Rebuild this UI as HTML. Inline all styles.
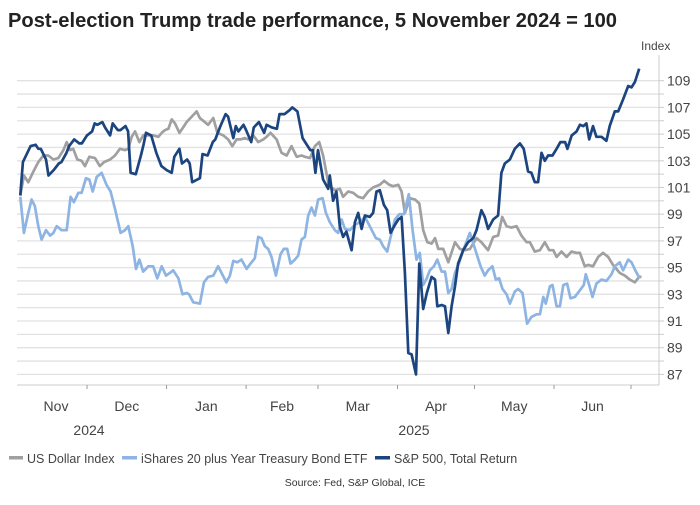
<!DOCTYPE html>
<html><head><meta charset="utf-8"><style>
body{margin:0;width:700px;height:500px;background:#fff;font-family:"Liberation Sans",sans-serif;overflow:hidden}
svg text{font-family:"Liberation Sans",sans-serif}
</style></head><body>
<svg width="700" height="500" xmlns="http://www.w3.org/2000/svg">
<text x="8" y="27" font-size="20" font-weight="bold" fill="#222" textLength="609" lengthAdjust="spacingAndGlyphs">Post-election Trump trade performance, 5 November 2024 = 100</text>
<text x="641" y="50" font-size="12" fill="#444">Index</text>
<g id="grid"></g><g id="yaxis"></g><g id="xaxis"></g><g id="series"></g>
<g>
<g><rect x="9" y="456" width="14" height="3.5" fill="#a0a0a0"/><text x="27" y="463" font-size="12.5" fill="#444">US Dollar Index</text></g>
<g><rect x="122" y="456" width="15" height="3.5" fill="#8db4e2"/><text x="141" y="463" font-size="12.5" fill="#444">iShares 20 plus Year Treasury Bond ETF</text></g>
<g><rect x="375" y="456" width="15" height="3.5" fill="#1c4580"/><text x="394" y="463" font-size="12.5" fill="#444">S&amp;P 500, Total Return</text></g>
</g>
<text x="355" y="486" font-size="10.5" fill="#333" text-anchor="middle">Source: Fed, S&amp;P Global, ICE</text>
</svg>
<script>
const spDays=[0,1,4,6,7,8,10,11,13,15,16,18,19,21,23,24,26,28,29,30,32,33,35,36,38,39,41,42,43,45,47,48,49,51,53,55,57,59,60,62,63,65,66,67,70,71,73,75,76,78,80,81,83,84,85,87,88,90,91,93,95,96,98,100,101,103,105,106,108,110,112,113,114,115,116,118,120,
120.6,121.9,123.2,124.5,125.8,127.1,129.1,130.4,131.7,133,134.3,136.2,137.5,138.8,140.1,141.7,143,144.3,146,147.3,148.6,149.9,151.2,152.5,154.2,155.5,157,158.4,160.3,161.6,162.5,164.2,165.5,166.8,168.1,169.4,170.6,172.6,174.5,176.5,177.8,179.7,181,182.3,184.3,186.2,187.5,188.8,190.8,192.7,194.7,196.2,197.9,199.2,200.5,201.8,203.1,204.4,205.7,207.4,209,210.5,212.3,213.2,214.9,216.8,218.1,219.4,220.6,221.7,223.2,224.5,226.5,228.4,229.7,231.7,233,234.9,236.9,238.2,239.5,241.2];
const spVals=[100.4,102.9,104.1,104.2,103.9,103.9,103.1,101.9,102.3,102.8,102.9,103.6,104.1,104.6,104.3,104.3,104.9,105.2,105.8,105.7,105.9,105.5,104.9,105.8,105.3,105.3,105.6,105.2,102.1,102.0,103.4,104.2,105.1,104.9,103.6,102.6,102.3,102.1,103.3,103.9,102.8,103.1,102.8,101.4,101.7,103.5,103.4,104.4,104.6,105.6,106.5,106.3,104.7,105.6,105.2,105.7,105.3,104.4,105.5,105.9,105.1,105.7,105.5,105.4,106.5,106.5,106.8,107.0,106.7,104.7,104.1,103.8,103.8,102.1,103.8,101.6,100.9,
101.9,100.0,100.7,98.1,97.3,97.7,96.3,98.4,99.1,97.9,98.9,98.8,99.1,100.7,100.8,99.7,99.3,97.6,98.2,98.6,98.8,94.6,88.6,88.5,87.0,95.3,91.9,93.1,94.3,94.1,92.1,92.2,92.1,90.1,92.1,93.6,95.3,96.3,96.9,97.2,97.8,99.3,98.8,97.9,98.6,98.9,102.1,102.8,103.1,103.9,104.3,103.9,102.2,102.1,101.4,101.4,103.6,103.0,103.4,103.4,103.9,104.4,104.4,103.9,104.9,105.2,105.7,105.6,105.8,104.6,105.6,104.8,104.8,104.5,105.6,106.7,106.7,107.6,108.6,108.5,108.9,109.9];
const usdDays=[0,1.4,3.1,5.1,7,9,10.9,12.9,14.8,16.8,18.1,19.4,20.6,22.2,23.9,25.2,26.9,29.1,31,32.6,35,36.9,38.8,40.8,42.1,43.4,44.7,46.4,47.9,49.9,51.8,53.8,55.1,56.4,57.7,59,60.3,62,63.5,64.8,66.8,68.7,70,71.9,73.2,75.2,76.8,79.1,81,82.6,84.3,85.8,87.5,88.8,90.8,92.7,94.7,96,97.5,99.9,101.8,103.8,105.7,107.7,109.6,110.9,112.9,114.8,116.5,118,120,
120.6,122.6,124.5,125.8,127.8,129.7,131.7,133.6,135.6,137.5,140.1,141.8,143.8,145.3,147.3,148.6,149.9,151.8,153.8,155.5,157,158.6,160.3,161.6,162.9,164.8,166.8,169.4,171.3,173.3,175.2,177.8,179.7,182.3,184.3,186.2,187.8,189.5,191.4,193.4,195.3,197.3,198.6,200.5,202.5,204.4,206.1,207.7,209,210.9,212.9,214.8,216.8,218.1,220,221.3,223.2,225.2,227.1,229.1,231,233.6,235.6,237.5,239.5,241.2,242.1];
const usdVals=[100.4,101.9,101.4,102.2,102.9,103.4,103.4,103.1,103.2,103.8,104.4,103.8,103.9,103.1,103.0,102.6,103.3,103.2,102.6,102.9,103.1,103.4,103.9,103.8,103.9,104.8,105.2,104.4,104.9,104.9,104.9,104.8,105.1,105.3,105.4,106.1,105.8,105.1,105.5,105.9,106.3,106.7,106.2,105.9,105.7,106.2,105.1,104.9,104.6,104.1,104.6,104.6,104.7,104.6,104.9,104.4,104.6,104.8,105.1,104.6,103.6,103.4,104.1,103.3,103.4,103.3,103.2,104.1,104.4,103.4,101.4,
101.1,100.8,100.9,100.3,100.7,100.6,100.3,100.2,100.7,101.0,101.2,101.5,101.2,101.1,101.2,100.7,99.1,100.2,100.1,99.8,97.8,96.9,96.8,97.2,96.4,96.4,95.4,96.9,96.4,96.3,96.4,97.2,96.9,96.3,97.3,97.4,98.8,98.1,98.0,98.1,97.4,96.9,96.9,96.2,96.3,96.9,96.3,96.3,95.8,96.2,95.8,96.2,96.1,96.1,95.1,95.2,95.1,95.8,96.1,95.8,95.2,94.6,94.4,94.1,93.9,94.3,94.3];
const tltDays=[0,1.4,3.1,4.4,5.7,7,8.3,10,11.6,12.9,14.2,16.1,18.1,19.6,20.9,22.6,23.9,25.6,26.9,28.2,29.8,31.7,33.6,35.2,36.9,39.1,40.8,42.1,43.8,45.1,46.4,47.9,49.9,51.8,53.4,55.1,56.8,58.3,59.6,61.6,63.2,64.8,65.8,67.4,70,71.6,73.2,75.2,77.1,78.4,80.3,81.7,83,84.5,86.2,88.2,89.7,91.4,92.7,94,95.3,96.6,97.9,99.6,101.4,102.7,104,105.3,107,108.3,109.6,110.9,112.2,113.5,114.8,116.1,117.8,119.1,
120.6,122.6,123.9,125.2,126.5,128.4,130.4,132.3,134.3,136.2,138.6,140.1,141.4,143,144.3,146,147.7,149.5,151.4,152.9,154.4,155.7,157,158.4,159.6,161.2,162.5,164.2,165.5,166.8,168.1,169.4,171.1,172.6,175.2,177.2,179.4,181,182.3,184,185.3,186.6,187.9,189.5,190.8,192.7,194,195.7,197.5,199.2,201.2,202.5,203.8,204.8,206.4,207.4,209,210.3,211.6,213.1,214.4,216.1,218.1,219.6,220.4,221.7,223,224.5,226.5,228.4,230.4,231.7,233.6,234.9,236.9,238.2,239.9,241.4];
const tltVals=[100.3,97.6,99.1,100.1,99.6,98.1,97.1,97.8,97.4,97.6,98.1,97.8,97.8,100.3,99.9,100.6,100.6,101.7,101.6,100.7,101.8,102.1,101.2,100.7,99.4,97.6,97.8,98.1,96.6,94.9,95.6,94.7,95.1,95.1,94.2,95.1,94.4,94.6,94.8,94.2,93.0,93.1,93.0,92.4,92.3,93.9,94.3,94.4,95.1,94.6,93.9,94.4,95.5,95.4,95.6,94.9,95.3,95.7,97.3,97.2,96.6,96.4,95.8,94.4,96.0,96.4,96.4,95.3,95.6,95.9,97.1,97.3,98.9,99.5,98.9,100.1,100.2,99.1,
98.4,97.8,97.6,98.6,97.9,97.8,98.2,98.4,98.8,98.1,97.2,97.1,96.6,96.2,97.3,98.6,99.0,99.0,100.5,97.8,95.6,96.1,93.7,94.2,94.8,95.1,95.6,94.7,94.7,93.1,93.4,94.6,95.4,96.3,97.6,96.4,95.1,94.4,94.8,95.1,94.1,94.2,93.4,93.0,92.3,93.2,93.4,93.1,90.8,91.3,91.5,91.5,92.8,92.3,93.6,93.7,92.1,92.1,93.7,93.8,92.7,92.8,93.3,93.7,94.5,93.7,92.8,93.8,94.1,94.0,94.5,95.1,95.4,94.8,95.6,95.4,94.7,94.2];
const yTicks=[87,89,91,93,95,97,99,101,103,105,107,109];
const months=["Nov","Dec","Jan","Feb","Mar","Apr","May","Jun"];
const monthStartDays=[-4,26,57,88,116,147,177,208,238];
const years=["2024","2025"];

const NS="http://www.w3.org/2000/svg";
const X0=17,X1=659,YB=385;
function x(d){return 20.3+d*2.566;}
function y(v){return 80.7+(109-v)*13.35;}
function mk(t,a,p){const e=document.createElementNS(NS,t);for(const k in a)e.setAttribute(k,a[k]);p.appendChild(e);return e;}
const grid=document.getElementById('grid'),ya=document.getElementById('yaxis'),xa=document.getElementById('xaxis'),ser=document.getElementById('series');
for(let v=87;v<=109;v++){
 const l=mk('line',{x1:X0,x2:X1,y1:y(v),y2:y(v),stroke:'#e2e2e2','stroke-width':1.3},grid);
 
 
 mk('line',{x1:X1,x2:X1+5,y1:y(v),y2:y(v),stroke:'#ccc','stroke-width':1},ya);
}
mk('line',{x1:X1,x2:X1,y1:55,y2:YB,stroke:'#ccc','stroke-width':1},ya);
mk('line',{x1:X0,x2:X1,y1:YB,y2:YB,stroke:'#ccc','stroke-width':1},xa);
yTicks.forEach(v=>{const t=mk('text',{x:667,y:y(v)+5,'font-size':14,fill:'#444'},ya);t.textContent=v;
 
 });
monthStartDays.slice(1).forEach(d=>mk('line',{x1:x(d),x2:x(d),y1:YB,y2:YB+4,stroke:'#999','stroke-width':1},xa));
months.forEach((m,i)=>{const a=Math.max(x(monthStartDays[i]),X0+10),b=x(monthStartDays[i+1]);
 const t=mk('text',{x:(i==0?56:(a+b)/2),y:411,'font-size':14,fill:'#444','text-anchor':'middle'},xa);t.textContent=m;
 
 });
[[years[0],89],[years[1],414]].forEach(([s,px])=>{const t=mk('text',{x:px,y:435,'font-size':14,fill:'#444','text-anchor':'middle'},xa);t.textContent=s;
 
 });
function line(days,vals,col,name){
 const p=mk('path',{d:days.map((d,i)=>(i?'L':'M')+x(d).toFixed(1)+','+y(vals[i]).toFixed(1)).join(''),fill:'none',stroke:col,'stroke-width':2.7,'stroke-linejoin':'round'},ser);
 
 
}
line(usdDays,usdVals,'#a0a0a0','usd-index-line');
line(tltDays,tltVals,'#8db4e2','tlt-etf-line');
line(spDays,spVals,'#1c4580','sp500-line');
</script>
</body></html>
